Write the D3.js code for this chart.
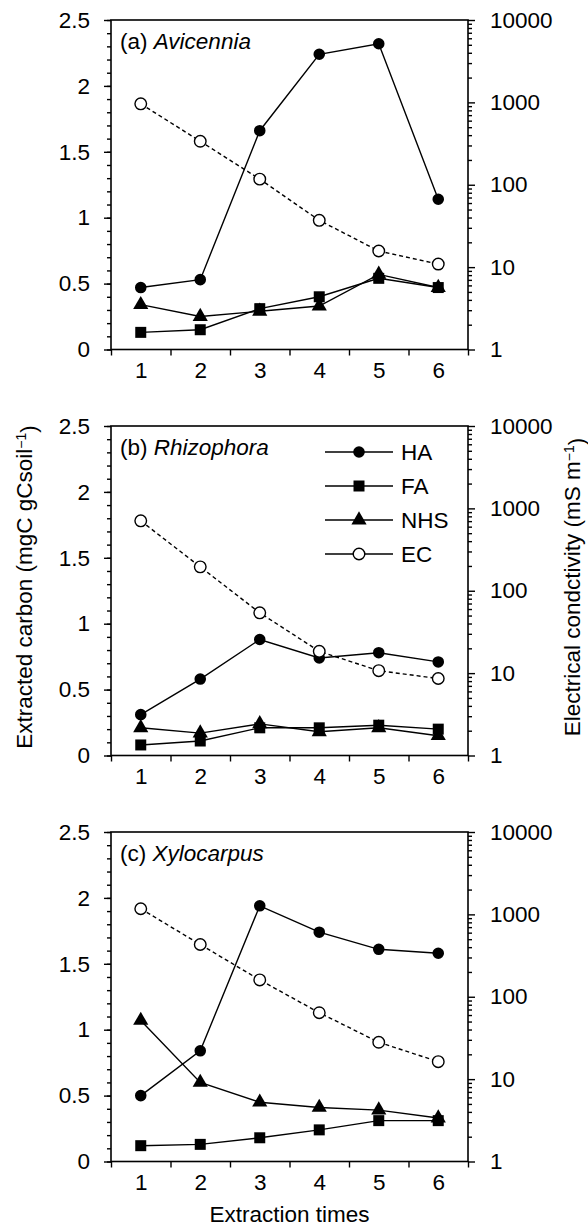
<!DOCTYPE html>
<html>
<head>
  <meta charset="utf-8">
  <title>Extracted carbon</title>
  <style>
    body { margin: 0; background: #fff; }
    svg { font-family: "Liberation Sans", Arial, sans-serif; }
    text { fill: #000; }
  </style>
  <script src="https://d3js.org/d3.v7.min.js"></script>
</head>
<body>
<script>
// extraction times (x categories)
var times = [1, 2, 3, 4, 5, 6];
var panelTags = ["(a) ", "(b) ", "(c) "];
var genera = ["Avicennia", "Rhizophora", "Xylocarpus"];

// extracted carbon, mgC gCsoil-1
var haA = [0.47, 0.53, 1.66, 2.24, 2.32, 1.14];
var faA = [0.13, 0.15, 0.31, 0.40, 0.54, 0.47];
var nhsA = [0.34, 0.25, 0.29, 0.33, 0.57, 0.47];
var haB = [0.31, 0.58, 0.88, 0.74, 0.78, 0.71];
var faB = [0.08, 0.11, 0.21, 0.21, 0.23, 0.20];
var nhsB = [0.21, 0.17, 0.24, 0.18, 0.21, 0.15];
var haC = [0.50, 0.84, 1.94, 1.74, 1.61, 1.58];
var faC = [0.12, 0.13, 0.18, 0.24, 0.31, 0.31];
var nhsC = [1.07, 0.60, 0.45, 0.41, 0.39, 0.33];

// electrical conductivity, mS m-1 (log axis)
var ecA = [960, 337, 117, 37, 15.7, 10.9];
var ecB = [706, 195, 54, 18.4, 10.7, 8.6];
var ecC = [1170, 431, 160, 64, 28, 16.3];

var leftTicks = [0, 0.5, 1, 1.5, 2, 2.5];
var rightTicks = [1, 10, 100, 1000, 10000];
var legendNames = ["HA", "FA", "NHS", "EC"];

var panels = [
  {ha: haA, fa: faA, nhs: nhsA, ec: ecA},
  {ha: haB, fa: faB, nhs: nhsB, ec: ecB},
  {ha: haC, fa: faC, nhs: nhsC, ec: ecC}
];

var W = 588, H = 1230;
var left = 111, right = 468;
var tops = [20, 426, 832];
var ph = 329.5;
var fs = 22.5;

var svg = d3.select("body").append("svg")
  .attr("width", W)
  .attr("height", H);

var x = d3.scaleLinear().domain([0.5, 6.5]).range([left, right]);

var sym = {
  ha: d3.symbol().type(d3.symbolCircle).size(105),
  fa: d3.symbol().type(d3.symbolSquare).size(121),
  nhs: d3.symbol().type(d3.symbolTriangle).size(100),
  ec: d3.symbol().type(d3.symbolCircle).size(105)
};

panels.forEach(function(p, i) {
  var top = tops[i];
  var y = d3.scaleLinear().domain([0, 2.5]).range([top + ph, top]);
  var yr = d3.scaleLog().domain([1, 10000]).range([top + ph, top]);
  var g = svg.append("g");

  // frame
  g.append("rect")
    .attr("x", left).attr("y", top)
    .attr("width", right - left).attr("height", ph)
    .attr("fill", "none").attr("stroke", "#000").attr("stroke-width", 1.6);

  // left axis
  var ly = d3.axisLeft(y).tickValues(d3.range(0, 2.51, 0.1)).tickSize(4).tickFormat("");
  g.append("g").attr("transform", "translate(" + left + ",0)").call(ly);
  var ly2 = d3.axisLeft(y).tickValues(leftTicks).tickSize(7).tickPadding(14)
    .tickFormat(function(d) { return d3.format("")(d); });
  g.append("g").attr("transform", "translate(" + left + ",0)").call(ly2)
    .selectAll("text").style("font-size", fs + "px");

  // right log axis
  var minor = [];
  for (var e = 0; e < 4; e++) for (var m = 2; m < 10; m++) minor.push(m * Math.pow(10, e));
  g.append("g").attr("transform", "translate(" + right + ",0)")
    .call(d3.axisRight(yr).tickValues(minor).tickSize(4).tickFormat(""));
  g.append("g").attr("transform", "translate(" + right + ",0)")
    .call(d3.axisRight(yr).tickValues(rightTicks).tickSize(7).tickPadding(15).tickFormat(d3.format("d")))
    .selectAll("text").style("font-size", fs + "px");

  // bottom axis: ticks between categories, labels at categories
  g.append("g").attr("transform", "translate(0," + (top + ph) + ")")
    .call(d3.axisBottom(x).tickValues(d3.range(0.5, 6.6, 1)).tickSize(6).tickFormat(""));
  g.append("g").attr("transform", "translate(0," + (top + ph) + ")")
    .call(d3.axisBottom(x).tickValues(times).tickSize(0).tickPadding(13).tickFormat(d3.format("d")))
    .selectAll("text").style("font-size", fs + "px");

  g.selectAll(".domain").remove();
  g.selectAll(".tick line").attr("stroke", "#000").attr("stroke-width", 1.4);

  // panel title
  var t = g.append("text").attr("x", left + 9).attr("y", top + 29).style("font-size", fs + "px");
  t.append("tspan").text(panelTags[i]);
  t.append("tspan").style("font-style", "italic").text(genera[i]);

  // series
  var line = d3.line().x(function(d, k) { return x(times[k]); });
  ["nhs", "fa", "ha"].forEach(function(key) {
    g.append("path")
      .attr("d", line.y(function(d) { return y(d); })(p[key]))
      .attr("fill", "none").attr("stroke", "#000").attr("stroke-width", 1.4);
  });
  g.append("path")
    .attr("d", line.y(function(d) { return yr(d); })(p.ec))
    .attr("fill", "none").attr("stroke", "#000").attr("stroke-width", 1.4)
    .attr("stroke-dasharray", "4,3");

  ["nhs", "fa", "ha"].forEach(function(key) {
    g.selectAll(null).data(p[key]).enter().append("path")
      .attr("transform", function(d, k) { return "translate(" + x(times[k]) + "," + y(d) + ")"; })
      .attr("d", sym[key]())
      .attr("fill", "#000");
  });
  g.selectAll(null).data(p.ec).enter().append("path")
    .attr("transform", function(d, k) { return "translate(" + x(times[k]) + "," + yr(d) + ")"; })
    .attr("d", sym.ec())
    .attr("fill", "#fff").attr("stroke", "#000").attr("stroke-width", 1.4);

  // legend in panel (b)
  if (i === 1) {
    var keys = ["ha", "fa", "nhs", "ec"];
    keys.forEach(function(key, j) {
      var ly0 = top + 26 + j * 34;
      var lg = g.append("g");
      lg.append("line").attr("x1", 325).attr("x2", 393).attr("y1", ly0).attr("y2", ly0)
        .attr("stroke", "#000").attr("stroke-width", 1.4);
      lg.append("path").attr("transform", "translate(359," + ly0 + ")")
        .attr("d", sym[key]())
        .attr("fill", key === "ec" ? "#fff" : "#000")
        .attr("stroke", key === "ec" ? "#000" : "none").attr("stroke-width", 1.4);
      lg.append("text").attr("x", 401).attr("y", ly0).attr("dy", "0.36em")
        .style("font-size", fs + "px").text(legendNames[j]);
    });
  }
});

// x title
svg.append("text")
  .attr("x", (left + right) / 2).attr("y", 1222)
  .attr("text-anchor", "middle").style("font-size", fs + "px")
  .text("Extraction times");

// left title
var lt = svg.append("text")
  .attr("transform", "translate(32," + 587 + ") rotate(-90)")
  .attr("text-anchor", "middle").style("font-size", fs + "px");
lt.append("tspan").text("Extracted carbon (mgC gCsoil");
lt.append("tspan").attr("dy", "-0.45em").style("font-size", "14px").text("\u22121");
lt.append("tspan").attr("dy", "0.45em").text(")");

// right title
var rt = svg.append("text")
  .attr("transform", "translate(580," + 587 + ") rotate(-90)")
  .attr("text-anchor", "middle").style("font-size", fs + "px");
rt.append("tspan").text("Electrical condctivity (mS m");
rt.append("tspan").attr("dy", "-0.45em").style("font-size", "14px").text("\u22121");
rt.append("tspan").attr("dy", "0.45em").text(")");
</script>
</body>
</html>
